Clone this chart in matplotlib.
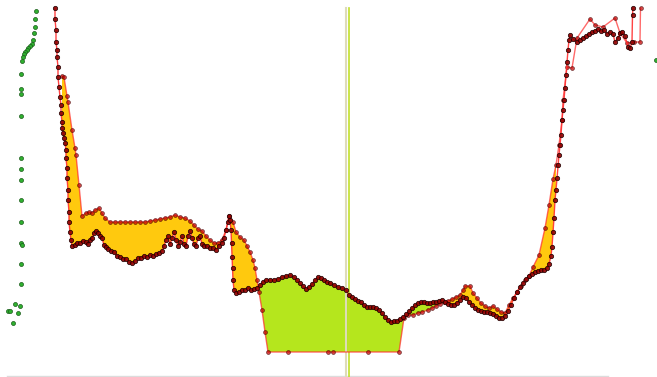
import numpy as np
import matplotlib
matplotlib.use('Agg')
import matplotlib.pyplot as plt

# main track (dense dark dots), screen-like coordinates (y grows downward)
track_x = [55, 55, 56, 56, 57, 57, 58, 58, 59, 60, 61, 61, 62, 62, 63, 64, 65, 66, 66, 67,
           67, 68, 68, 69, 69, 70, 71, 72, 75, 77, 80, 83, 86, 88, 90, 92, 94, 96, 98, 100,
           102, 104, 106, 108, 111, 114, 117, 120, 123, 126, 129, 132, 135, 138, 141, 144, 147, 150, 153, 156,
           159, 162, 164, 166, 168, 170, 172, 174, 176, 178, 180, 182, 184, 186, 188, 190, 192, 194, 196, 198,
           200, 202, 204, 207, 210, 213, 216, 219, 222, 224, 226, 228, 229, 230, 231, 231.5, 232, 232.5, 233, 234,
           236, 239, 242, 245, 248, 251, 254, 257, 260, 263, 266, 270, 274, 278, 282, 286, 290, 294, 297, 300,
           303, 306, 309, 312, 315, 318, 321, 324, 327, 330, 334, 338, 342, 346, 349, 352, 355, 358, 361, 364,
           367, 370, 373, 376, 379, 382, 385, 388, 391, 394, 397, 400, 403, 406, 409, 412, 415, 418, 421, 424,
           427, 430, 433, 436, 439, 442, 445, 448, 451, 454, 457, 460, 463, 466, 469, 472, 475, 478, 481, 484,
           487, 490, 493, 496, 499, 502, 505, 508, 511, 514, 517, 520, 523, 526, 529, 532, 535, 538, 541, 544,
           547, 549, 551, 552, 553, 554, 555, 556, 557, 558, 559, 560, 561, 562, 563, 564, 565, 566, 567, 568,
           569, 570, 573, 577, 580, 583, 586, 589, 592, 595, 598, 601, 604, 607, 610, 613, 615, 618, 620, 622,
           625, 628, 630, 632, 632.5, 633]
track_y = [8, 19, 30, 42, 50, 57, 67, 77, 87, 97, 105, 113, 122, 128, 133, 138, 143, 150, 158, 168,
           178, 190, 200, 212, 222, 232, 240, 246, 245, 243, 243, 241, 242, 244, 240, 238, 233, 231, 233, 236,
           238, 245, 247, 249, 251, 252, 256, 257, 259, 259, 262, 263, 261, 258, 258, 256, 257, 255, 256, 254,
           253, 251, 246, 240, 236, 244, 238, 232, 240, 246, 242, 236, 244, 246, 236, 231, 238, 244, 246, 238,
           236, 244, 246, 246, 248, 248, 250, 246, 243, 238, 230, 222, 216, 220, 230, 243, 257, 268, 280, 290,
           293, 292, 290, 290, 288, 290, 289, 288, 285, 282, 280, 280, 280, 279, 277, 276, 275, 277, 280, 283,
           286, 289, 287, 284, 280, 277, 278, 280, 282, 283, 285, 287, 288, 290, 295, 297, 299, 301, 302, 305,
           307, 307, 307, 308, 310, 313, 317, 320, 322, 321, 321, 319, 317, 314, 311, 308, 305, 303, 302, 302,
           303, 303, 302, 302, 301, 300, 302, 304, 305, 305, 303, 300, 297, 298, 302, 305, 308, 310, 311, 312,
           312, 313, 314, 316, 318, 318, 316, 311, 305, 298, 292, 287, 283, 279, 276, 274, 272, 271, 270, 270,
           268, 264, 256, 247, 232, 218, 200, 190, 178, 165, 155, 145, 135, 120, 110, 100, 88, 75, 62, 50,
           40, 35, 39, 42, 40, 38, 36, 34, 32, 31, 29, 31, 30, 34, 32, 34, 42, 38, 33, 32,
           36, 47, 48, 42, 15, 8]

# second track (red line, sparse dots)
ref_x = [62, 64, 67, 68, 72, 75, 76, 79, 82, 86, 89, 92, 95, 99, 102, 105, 110, 115, 120, 125,
         130, 135, 140, 145, 150, 155, 160, 165, 170, 175, 180, 185, 190, 194, 198, 202, 206, 210, 214, 218,
         222, 226, 229, 233, 236, 240, 244, 247, 250, 253, 255, 257, 259, 262, 265, 268, 288, 328, 333, 368,
         399, 404, 408, 413, 418, 422, 428, 432, 436, 440, 444, 448, 452, 456, 460, 463, 465, 470, 473, 477,
         481, 485, 489, 493, 497, 501, 505, 509, 513, 517, 521, 525, 529, 533, 539, 545, 549, 553, 556, 559,
         562, 563, 567, 572, 577, 590, 595, 603, 615, 620, 627, 634, 640, 640.5]
ref_y = [76, 77, 96, 102, 130, 148, 155, 185, 216, 213, 212, 213, 210, 208, 213, 218, 222, 222, 222, 222,
         222, 222, 222, 222, 221, 220, 219, 218, 217, 215, 217, 218, 221, 225, 229, 231, 236, 240, 243, 243,
         240, 230, 216, 222, 232, 237, 240, 246, 252, 260, 268, 280, 292, 310, 332, 352, 352, 352, 352, 352,
         352, 318, 315, 315, 313, 312, 310, 308, 306, 304, 302, 301, 299, 297, 295, 290, 286, 286, 293, 298,
         303, 306, 308, 306, 309, 312, 313, 305, 298, 292, 286, 280, 276, 267, 255, 228, 205, 179, 165, 145,
         120, 100, 67, 68, 38, 19, 25, 27, 18, 33, 43, 42, 42, 8]

# scattered green points on the left
side_x = [36, 35, 35, 34, 33, 32, 30, 28, 27, 25, 24, 23, 22, 21, 21, 21, 21, 21, 21, 21,
          21, 21, 21, 22, 21, 21, 15, 20, 18, 8, 10, 13, 656]
side_y = [11, 19, 27, 33, 40, 44, 46, 48, 50, 52, 54, 57, 61, 74, 89, 94, 116, 158, 169, 180,
          200, 222, 243, 245, 264, 284, 304, 306, 313, 311, 311, 323, 60]

markers = [346, 348.5]

fig = plt.figure(figsize=(6.57, 3.77), dpi=100)
ax = fig.add_axes([0, 0, 1, 1])
ax.set_xlim(0, 657)
ax.set_ylim(377, 0)
ax.axis('off')

# fill between the two tracks
xs = np.linspace(62, 556, 4000)
a = np.interp(xs, track_x, track_y)
b = np.interp(xs, ref_x, ref_y)
ax.fill_between(xs, a, b, where=b <= a, interpolate=True, color='#FFC90E', lw=0, zorder=1)
ax.fill_between(xs, a, b, where=b > a, interpolate=True, color='#B5E61D', lw=0, zorder=1)

ax.axhline(376, xmin=7 / 657, xmax=608 / 657, color='#dcdcdc', lw=1, zorder=0)
ax.plot([markers[0]] * 2, [8, 377], color='#dedcb8', lw=1.5, zorder=2)
ax.plot([markers[1]] * 2, [8, 377], color='#c2e02a', lw=1.2, zorder=2)

ax.plot(ref_x, ref_y, color='#ff2a2a', lw=1, alpha=0.7, zorder=3,
        marker='o', ms=2.8, mfc='#c00000', mec='#400000', mew=0.5)
ax.plot(track_x, track_y, color='#ff3030', lw=1, alpha=0.9, zorder=4,
        marker='o', ms=3.1, mfc='#900000', mec='#200000', mew=0.6)

ax.plot(side_x, side_y, ls='none', marker='o', ms=2.9, mfc='#2fb02f', mec='#1a5a1a', mew=0.5, zorder=3)

fig.savefig('out.png', dpi=100)
